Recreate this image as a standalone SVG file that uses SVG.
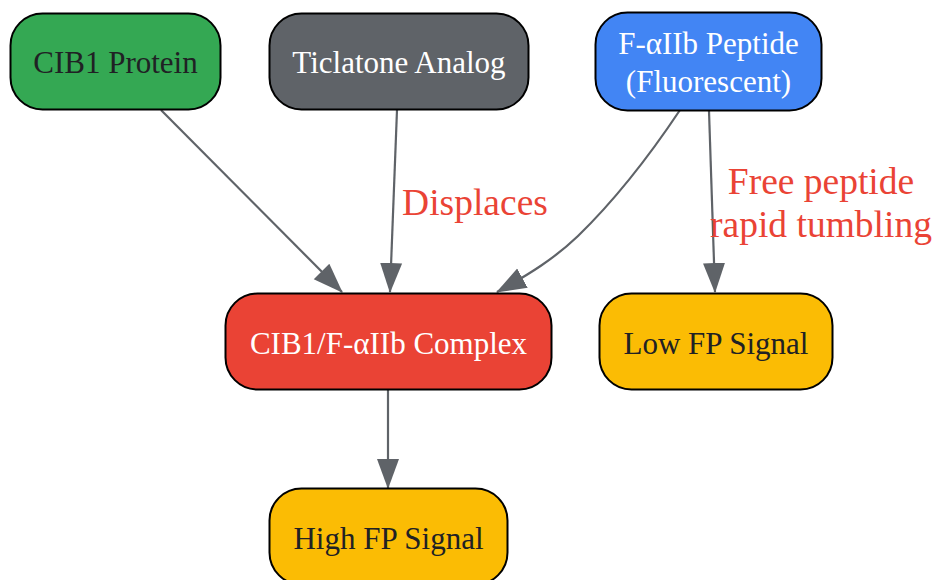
<svg xmlns="http://www.w3.org/2000/svg" width="933" height="580" viewBox="0 0 933 580">
<style>
.node rect{stroke:#000;stroke-width:2}
.nt{font-family:"Liberation Serif","Times New Roman",serif;font-size:31px;text-anchor:middle}
.dark{fill:#202124}
.light{fill:#ffffff}
.edge{fill:none;stroke:#5f6368;stroke-width:2.2}
.el{font-family:"Liberation Serif","Times New Roman",serif;font-size:37.5px;fill:#ea4335;text-anchor:middle}
</style>
<defs>
<marker id="arr" markerUnits="userSpaceOnUse" markerWidth="30" markerHeight="24" viewBox="0 0 30 24" refX="29" refY="12" orient="auto">
<path d="M0,1 L30,12 L0,23 Z" fill="#5f6368"/>
</marker>
</defs>
<rect width="933" height="580" fill="#ffffff"/>
<g id="connectors">
<path class="edge" d="M161,110 L342,292" marker-end="url(#arr)"/>
<path class="edge" d="M397,110 L390,292" marker-end="url(#arr)"/>
<path class="edge" d="M680,110 C650,155 615,200 578,236 C555,258 530,274 497,292" marker-end="url(#arr)"/>
<path class="edge" d="M709,111 L715,292" marker-end="url(#arr)"/>
<path class="edge" d="M388,390 L388,488" marker-end="url(#arr)"/>
<text class="el" x="475" y="215">Displaces</text>
<text class="el" x="821" y="194">Free peptide</text>
<text class="el" x="821" y="237">rapid tumbling</text>
</g>
<g id="cib1" class="node">
<rect x="10.5" y="13.5" width="210" height="96" rx="32" fill="#34a853"/>
<text class="nt dark" x="115.5" y="73">CIB1 Protein</text>
</g>
<g id="ticlatone" class="node">
<rect x="269.5" y="13.5" width="259" height="96" rx="32" fill="#5f6368"/>
<text class="nt light" x="399" y="73">Ticlatone Analog</text>
</g>
<g id="peptide" class="node">
<rect x="595.5" y="12.5" width="226" height="98" rx="32" fill="#4285f4"/>
<text class="nt light" x="708.5" y="54">F-αIIb Peptide</text>
<text class="nt light" x="708.5" y="92">(Fluorescent)</text>
</g>
<g id="complex" class="node">
<rect x="225.5" y="293.5" width="326" height="96" rx="32" fill="#ea4335"/>
<text class="nt light" x="388.5" y="354">CIB1/F-αIIb Complex</text>
</g>
<g id="lowfp" class="node">
<rect x="599.5" y="293.5" width="233" height="96" rx="32" fill="#fbbc04"/>
<text class="nt dark" x="716" y="354">Low FP Signal</text>
</g>
<g id="highfp" class="node">
<rect x="269.5" y="488.5" width="238" height="96" rx="32" fill="#fbbc04"/>
<text class="nt dark" x="388.5" y="549">High FP Signal</text>
</g>
</svg>
